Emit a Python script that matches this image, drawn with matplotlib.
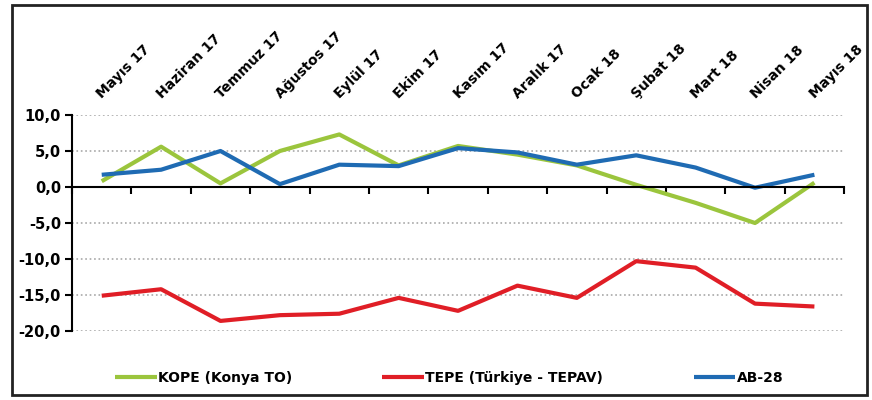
import matplotlib.pyplot as plt
from matplotlib.patches import Rectangle
from matplotlib.ticker import FuncFormatter, FixedLocator

months = ["Mayıs 17", "Haziran 17", "Temmuz 17", "Ağustos 17", "Eylül 17", "Ekim 17",
          "Kasım 17", "Aralık 17", "Ocak 18", "Şubat 18", "Mart 18", "Nisan 18", "Mayıs 18"]
kope = [0.8, 5.6, 0.5, 5.0, 7.3, 3.0, 5.7, 4.5, 3.0, 0.3, -2.2, -5.0, 0.6]
tepe = [-15.1, -14.2, -18.6, -17.8, -17.6, -15.4, -17.2, -13.7, -15.4, -10.3, -11.2, -16.2, -16.6]
ab28 = [1.7, 2.4, 5.0, 0.4, 3.1, 2.9, 5.4, 4.8, 3.1, 4.4, 2.7, -0.1, 1.7]

plt.rcParams["font.family"] = ["DejaVu Sans"]
plt.rcParams["font.weight"] = "bold"

fig = plt.figure(figsize=(8.72, 4.0), dpi=100)
ax = fig.add_axes([0.0826, 0.1725, 0.8854, 0.54])

x = list(range(len(months)))
ax.plot(x, kope, color="#9BC53D", lw=3, label="KOPE (Konya TO)", solid_capstyle="butt")
ax.plot(x, tepe, color="#E01E26", lw=3, label="TEPE (Türkiye - TEPAV)", solid_capstyle="butt")
ax.plot(x, ab28, color="#1F6BB3", lw=3, label="AB-28", solid_capstyle="butt")

ax.set_xlim(-0.5, len(months) - 0.5)
ax.set_ylim(-20, 10)
ax.set_yticks([10, 5, 0, -5, -10, -15, -20])
ax.yaxis.set_major_formatter(FuncFormatter(lambda v, p: f"{v:.1f}".replace(".", ",")))
ax.grid(axis="y", linestyle=":", color="#a8a8a8", lw=1.2)
ax.set_axisbelow(True)

ax.spines["top"].set_visible(False)
ax.spines["right"].set_visible(False)
ax.spines["bottom"].set_position(("data", 0))
ax.spines["left"].set_linewidth(1.5)
ax.spines["bottom"].set_linewidth(1.5)

# month labels sit above the plot, slanted
ax.set_xticks([])
ax.xaxis.set_minor_locator(FixedLocator([i - 0.5 for i in range(len(months) + 1)]))
ax.tick_params(axis="x", which="minor", length=5, width=1.5, direction="out", bottom=True)
for i, m in zip(x, months):
    ax.annotate(m, xy=(i, 1.0), xycoords=("data", "axes fraction"),
                xytext=(2, 10), textcoords="offset points", rotation=45,
                rotation_mode="anchor", ha="left", va="bottom",
                fontsize=10, fontweight="bold", annotation_clip=False)

ax.tick_params(axis="y", length=5, width=1.5, labelsize=10.5, pad=3)
for lbl in ax.get_yticklabels():
    lbl.set_fontweight("bold")

fig.legend(loc="center", bbox_to_anchor=(0.515, 0.055), ncol=3, frameon=False,
           handlelength=3.0, handletextpad=0.1, columnspacing=6.5,
           prop={"weight": "bold", "size": 10})

fig.patches.append(Rectangle((0.014, 0.012), 0.98, 0.975, transform=fig.transFigure,
                             fill=False, edgecolor="#222222", lw=2))

fig.savefig("out.png", dpi=100)
